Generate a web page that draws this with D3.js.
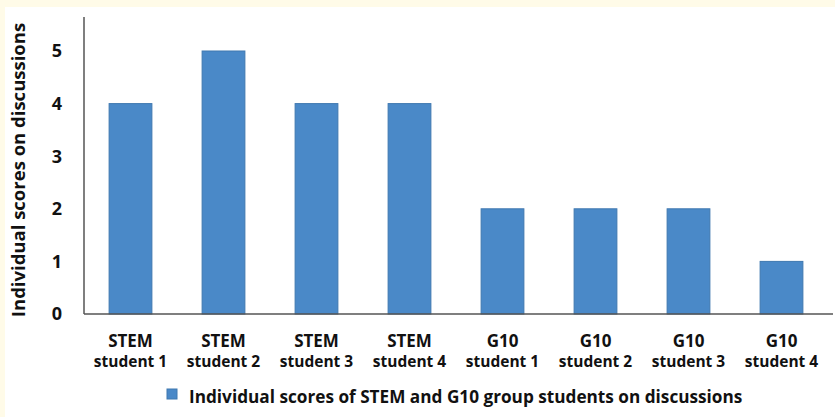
<!DOCTYPE html>
<html>
<head>
<meta charset="utf-8">
<script src="https://d3js.org/d3.v7.min.js"></script>
<style>
  html, body { margin: 0; padding: 0; background: #fffbe8; }
  svg { display: block; }
  text { font-family: "Open Sans", "Liberation Sans", sans-serif; font-weight: bold; fill: #111; }
</style>
</head>
<body>
<script>
// chart data
var groups = ["STEM", "STEM", "STEM", "STEM", "G10", "G10", "G10", "G10"];
var students = ["student 1", "student 2", "student 3", "student 4", "student 1", "student 2", "student 3", "student 4"];
var scores = [4, 5, 4, 4, 2, 2, 2, 1];
var yTicks = [0, 1, 2, 3, 4, 5];
var seriesName = "Individual scores of STEM and G10 group students on discussions";
var yTitle = "Individual  scores on discussions";

var W = 835, H = 417;
var svg = d3.select("body").append("svg").attr("width", W).attr("height", H);

// white panel inside cream frame
svg.append("rect").attr("x", 5).attr("y", 7).attr("width", W - 5).attr("height", H - 7).attr("fill", "#fff");

var plotL = 84, plotR = 828, plotT = 17, plotB = 314;
var keys = d3.range(scores.length);

var x = d3.scaleBand().domain(keys).range([plotL, plotR]).paddingInner(0.54).paddingOuter(0.27);
var y = d3.scaleLinear().domain([0, 5]).range([plotB, 51]);

// bars
svg.selectAll("rect.bar").data(keys).enter().append("rect")
  .attr("class", "bar")
  .attr("x", function(i) { return x(i); })
  .attr("y", function(i) { return y(scores[i]); })
  .attr("width", x.bandwidth())
  .attr("height", function(i) { return plotB - y(scores[i]); })
  .attr("fill", "#4a89c8")
  .attr("stroke", "#3f78b0")
  .attr("stroke-width", 1);

// axis lines
svg.append("line").attr("x1", plotL).attr("x2", plotL).attr("y1", plotT).attr("y2", plotB)
  .attr("stroke", "#555").attr("stroke-width", 1.5);
svg.append("line").attr("x1", plotL).attr("x2", 833).attr("y1", plotB).attr("y2", plotB)
  .attr("stroke", "#555").attr("stroke-width", 1.5);

// y tick labels
svg.selectAll("text.ytick").data(yTicks).enter().append("text")
  .attr("class", "ytick")
  .attr("x", 57).attr("y", function(d) { return y(d); })
  .attr("dy", "0.36em")
  .attr("text-anchor", "middle")
  .style("font-size", "18px")
  .text(function(d) { return d; });

// x labels, two lines
var xl = svg.selectAll("g.xl").data(keys).enter().append("g")
  .attr("transform", function(i) { return "translate(" + (x(i) + x.bandwidth() / 2) + ",0)"; });
xl.append("text").attr("y", 347).attr("text-anchor", "middle").style("font-size", "17px")
  .text(function(i) { return groups[i]; });
xl.append("text").attr("y", 367).attr("text-anchor", "middle").style("font-size", "15.5px")
  .text(function(i) { return students[i]; });

// y title
svg.append("text")
  .attr("transform", "translate(25,170) rotate(-90)")
  .attr("text-anchor", "middle")
  .style("font-size", "18.5px")
  .text(yTitle);

// legend
svg.append("rect").attr("x", 167).attr("y", 389).attr("width", 10).attr("height", 10)
  .attr("fill", "#4a89c8").attr("stroke", "#3f78b0");
svg.append("text").attr("x", 189).attr("y", 403).style("font-size", "17.2px").text(seriesName);
</script>
</body>
</html>
